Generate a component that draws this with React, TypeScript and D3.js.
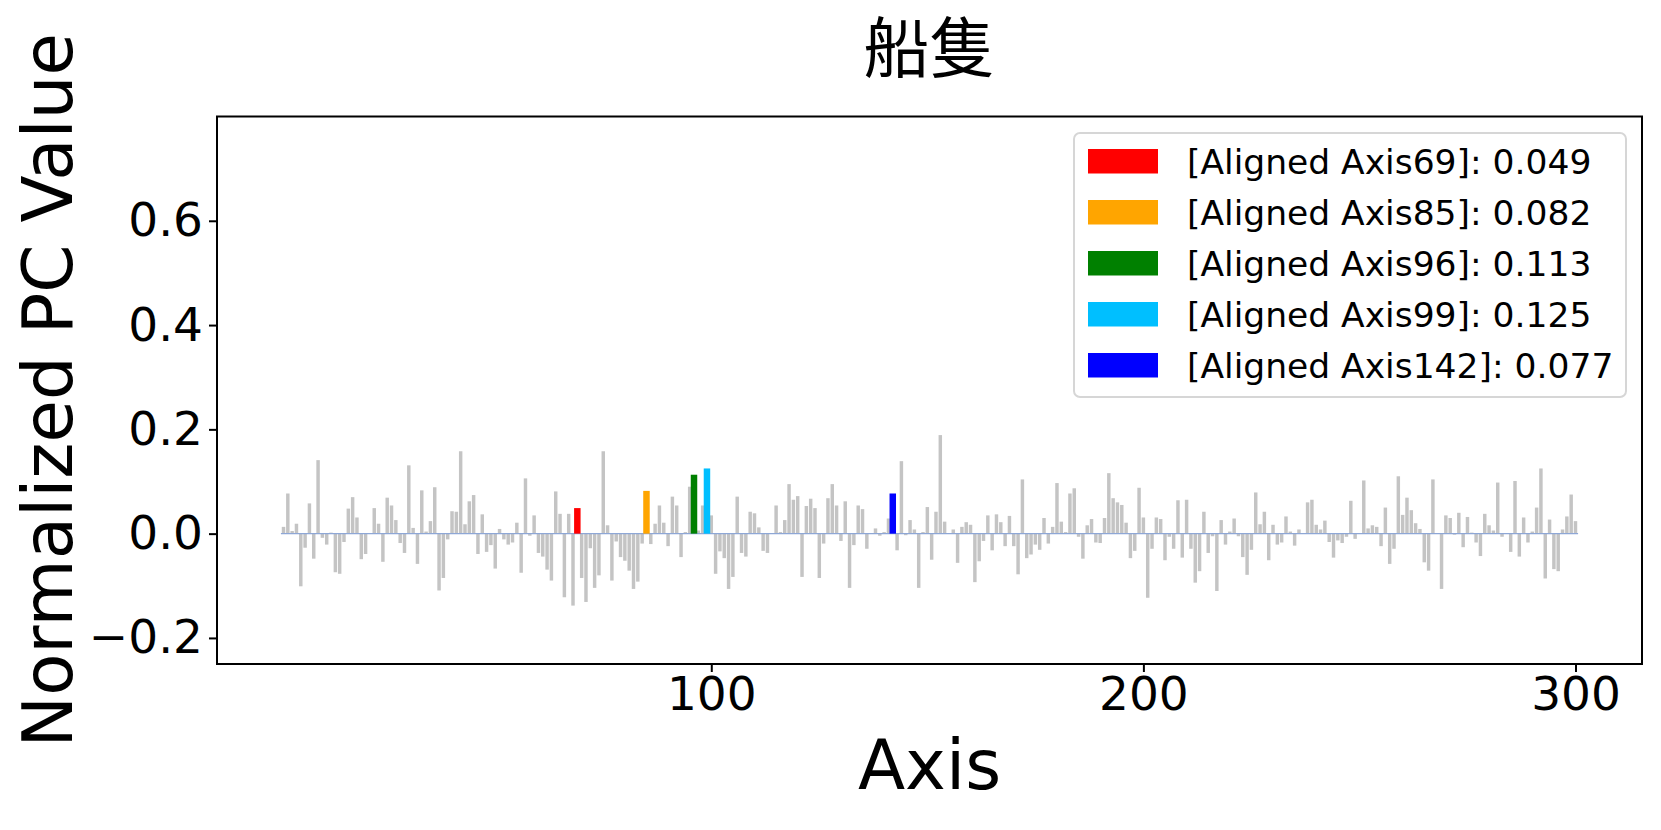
import React, { useEffect, useRef } from 'react';
import * as d3 from 'd3';

// PC values for axis 1..300
const pcValues: number[] = [
    0.013, 0.077, 0.005, 0.019, -0.101, -0.027, 0.058, -0.048, 0.141, -0.008,
    -0.021, 0.002, -0.074, -0.077, -0.016, 0.048, 0.070, 0.031, -0.049, -0.039,
    0.001, 0.049, 0.019, -0.054, 0.069, 0.054, 0.026, -0.018, -0.037, 0.131,
    0.011, -0.058, 0.083, 0.004, 0.024, 0.089, -0.109, -0.085, -0.011, 0.043,
    0.042, 0.158, 0.018, 0.062, 0.074, -0.039, 0.037, -0.035, -0.022, -0.067,
    0.009, -0.011, -0.021, -0.017, 0.021, -0.075, 0.106, -0.004, 0.035, -0.037,
    -0.044, -0.069, -0.090, 0.081, 0.038, -0.122, 0.038, -0.138, 0.049, -0.085,
    -0.131, -0.028, -0.104, -0.080, 0.158, 0.016, -0.090, -0.015, -0.045, -0.052,
    -0.071, -0.106, -0.092, -0.019, 0.082, -0.020, 0.019, 0.054, 0.021, -0.024,
    0.071, 0.054, -0.045, 0.003, 0.090, 0.113, 0.006, 0.054, 0.125, 0.035,
    -0.077, -0.034, -0.047, -0.106, -0.083, 0.071, -0.037, -0.044, 0.042, 0.039,
    0.012, -0.033, -0.037, 0.001, 0.054, 0.003, 0.026, 0.095, 0.065, 0.072,
    -0.083, 0.053, 0.067, 0.049, -0.085, -0.019, 0.068, 0.095, 0.054, -0.014,
    0.062, -0.104, -0.022, 0.054, 0.047, -0.029, 0.001, 0.010, -0.004, 0.003,
    0.029, 0.077, -0.032, 0.139, -0.003, 0.026, 0.008, -0.104, 0.003, 0.051,
    -0.050, 0.042, 0.189, 0.023, 0.001, 0.008, -0.056, 0.013, 0.022, 0.017,
    -0.093, -0.053, -0.014, 0.035, -0.032, 0.037, 0.022, -0.024, 0.034, -0.024,
    -0.078, 0.104, -0.047, -0.040, -0.021, -0.031, 0.030, -0.019, 0.013, 0.097,
    0.023, 0.003, 0.077, 0.087, -0.006, -0.048, 0.016, 0.028, -0.017, -0.018,
    0.030, 0.116, 0.068, 0.060, 0.055, 0.021, -0.047, -0.033, 0.088, 0.031,
    -0.123, -0.029, 0.031, 0.028, -0.051, -0.006, -0.029, 0.064, -0.046, 0.065,
    -0.029, -0.094, -0.072, 0.042, -0.037, -0.005, -0.110, 0.026, -0.021, 0.004,
    0.029, -0.005, -0.045, -0.079, -0.031, 0.079, 0.018, 0.042, -0.051, 0.017,
    -0.021, -0.017, 0.033, 0.004, -0.023, 0.008, 0.001, 0.060, 0.065, 0.017,
    0.008, 0.025, -0.016, -0.046, -0.013, -0.018, -0.006, 0.063, -0.010, 0.001,
    0.102, 0.010, 0.016, 0.013, -0.024, 0.050, -0.058, -0.029, 0.110, 0.036,
    0.069, 0.045, 0.020, 0.009, -0.055, -0.071, 0.104, 0.001, -0.106, 0.035,
    0.030, -0.002, 0.040, -0.026, 0.032, 0.002, -0.017, -0.043, 0.038, 0.016,
    0.006, 0.098, -0.006, 0.001, -0.035, 0.101, -0.044, 0.031, -0.017, 0.004,
    0.050, 0.125, -0.086, 0.027, -0.068, -0.072, 0.008, 0.033, 0.075, 0.024
];

const highlightAxes = [69, 85, 96, 99, 142];
const highlightValues = [0.049, 0.082, 0.113, 0.125, 0.077];
const highlightColors = ['#ff0000', '#ffa500', '#008000', '#00bfff', '#0000ff'];

const xTicks = [100, 200, 300];
const yTicks = [-0.2, 0.0, 0.2, 0.4, 0.6];

const TITLE = '船隻';

export default function App() {
    const svgRef = useRef<SVGSVGElement>(null);

    useEffect(() => {
        if (!svgRef.current) return;
        const width = 1661;
        const height = 830;
        const plot = { left: 217, right: 1642, top: 116.5, bottom: 664 };
        const font = "'DejaVu Sans', 'Liberation Sans', sans-serif";

        const svg = d3.select(svgRef.current)
            .attr('width', width)
            .attr('height', height);
        svg.selectAll('*').remove();

        svg.append('rect').attr('width', width).attr('height', height).attr('fill', '#fff');

        const x = d3.scaleLinear().domain([-14.39, 315.39]).range([plot.left, plot.right]);
        const y = d3.scaleLinear().domain([-0.25, 0.8]).range([plot.bottom, plot.top]);

        const data = pcValues.map((v, i) => ({ axis: i + 1, value: v }));
        const hl = highlightAxes.map((a, i) => ({ axis: a, value: highlightValues[i], color: highlightColors[i] }));

        // gray bars
        const bw = 0.8;
        svg.append('g')
            .selectAll('rect')
            .data(data.filter(d => !highlightAxes.includes(d.axis)))
            .enter()
            .append('rect')
            .attr('x', d => x(d.axis - bw / 2))
            .attr('width', x(bw) - x(0))
            .attr('y', d => y(Math.max(0, d.value)))
            .attr('height', d => Math.abs(y(d.value) - y(0)))
            .attr('fill', '#c4c4c4');

        // zero line
        svg.append('line')
            .attr('x1', x(0.4)).attr('x2', x(300.6))
            .attr('y1', y(0)).attr('y2', y(0))
            .attr('stroke', '#8ea7d6')
            .attr('stroke-width', 1.4);

        // highlighted bars
        const hw = 1.5;
        svg.append('g')
            .selectAll('rect')
            .data(hl)
            .enter()
            .append('rect')
            .attr('x', d => x(d.axis - hw / 2))
            .attr('width', x(hw) - x(0))
            .attr('y', d => y(Math.max(0, d.value)))
            .attr('height', d => Math.abs(y(d.value) - y(0)))
            .attr('fill', d => d.color);

        // frame
        svg.append('rect')
            .attr('x', plot.left).attr('y', plot.top)
            .attr('width', plot.right - plot.left)
            .attr('height', plot.bottom - plot.top)
            .attr('fill', 'none')
            .attr('stroke', '#000')
            .attr('stroke-width', 2);

        // axes
        const xAxis = svg.append('g')
            .attr('transform', `translate(0, ${plot.bottom})`)
            .call(d3.axisBottom(x).tickValues(xTicks).tickSize(8).tickPadding(5).tickFormat(d3.format('d')));
        const yAxis = svg.append('g')
            .attr('transform', `translate(${plot.left}, 0)`)
            .call(d3.axisLeft(y).tickValues(yTicks).tickSize(8).tickPadding(6).tickFormat(d3.format('.1f')));

        [xAxis, yAxis].forEach(g => {
            g.select('.domain').remove();
            g.selectAll('.tick line').attr('stroke', '#000').attr('stroke-width', 2);
            g.selectAll('.tick text')
                .attr('fill', '#000')
                .attr('font-size', 47)
                .attr('font-family', font);
        });

        // title & labels
        svg.append('text')
            .attr('x', (plot.left + plot.right) / 2)
            .attr('y', 72)
            .attr('text-anchor', 'middle')
            .attr('font-size', 66)
            .attr('font-family', "'Noto Sans CJK TC', 'Noto Sans CJK SC', sans-serif")
            .text(TITLE);

        svg.append('text')
            .attr('x', (plot.left + plot.right) / 2)
            .attr('y', 789)
            .attr('text-anchor', 'middle')
            .attr('font-size', 69)
            .attr('font-family', font)
            .text('Axis');

        svg.append('text')
            .attr('transform', `translate(72, ${(plot.top + plot.bottom) / 2}) rotate(-90)`)
            .attr('text-anchor', 'middle')
            .attr('font-size', 69)
            .attr('font-family', font)
            .text('Normalized PC Value');

        // legend
        const lg = svg.append('g');
        lg.append('rect')
            .attr('x', 1074).attr('y', 133)
            .attr('width', 552).attr('height', 264)
            .attr('rx', 6)
            .attr('fill', 'rgba(255,255,255,0.8)')
            .attr('stroke', '#d6d6d6')
            .attr('stroke-width', 2);

        const rows = lg.selectAll('g.row')
            .data(hl)
            .enter()
            .append('g')
            .attr('class', 'row')
            .attr('transform', (d, i) => `translate(0, ${161 + i * 51})`);

        rows.append('rect')
            .attr('x', 1088).attr('y', -12)
            .attr('width', 70).attr('height', 24.5)
            .attr('fill', d => d.color);

        rows.append('text')
            .attr('x', 1187).attr('y', 13)
            .attr('font-size', 34.5)
            .attr('font-family', font)
            .attr('fill', '#000')
            .text(d => `[Aligned Axis${d.axis}]: ${d.value.toFixed(3)}`);
    }, []);

    return (
        <svg ref={svgRef} style={{ position: 'absolute', left: 0, top: 0, display: 'block' }} />
    );
}
